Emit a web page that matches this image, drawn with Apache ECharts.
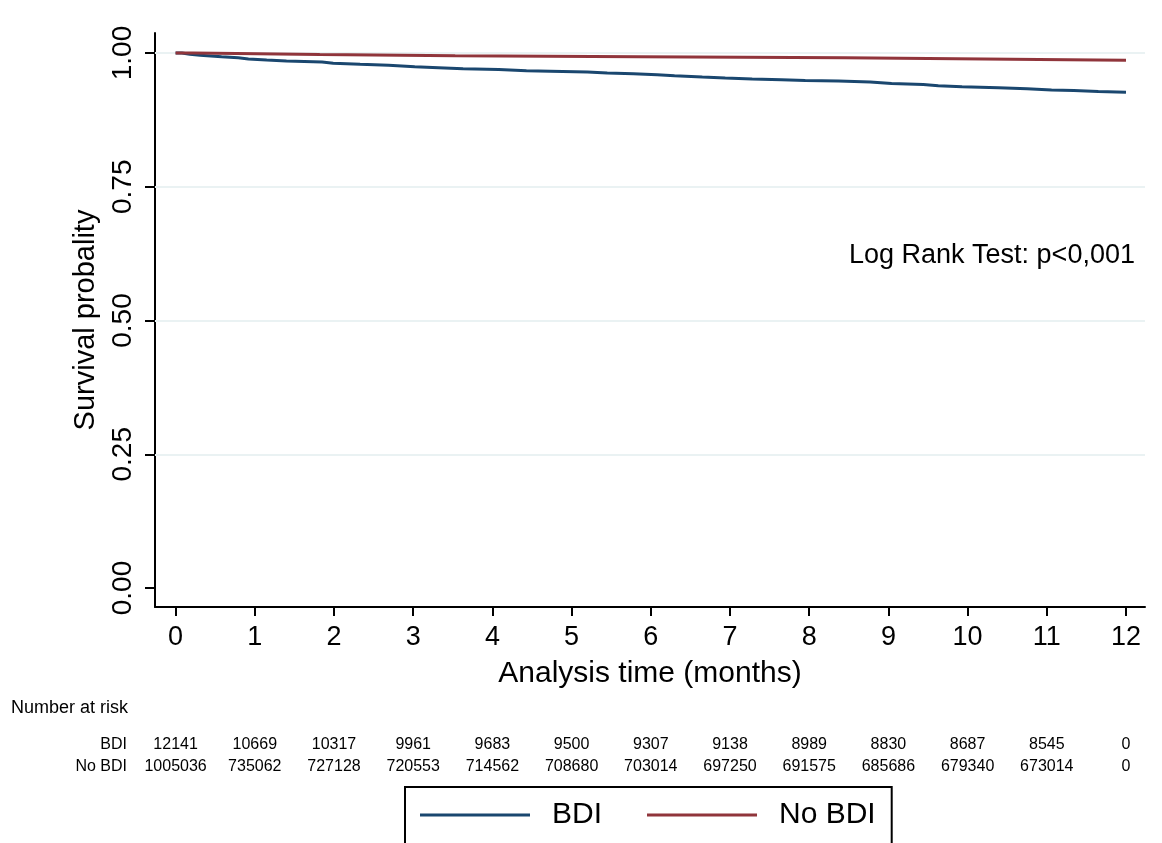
<!DOCTYPE html>
<html>
<head>
<meta charset="utf-8">
<script src="https://cdn.jsdelivr.net/npm/echarts@6/dist/echarts.min.js"></script>
<style>
html, body { margin: 0; padding: 0; background: #fff; }
#chart { width: 1162px; height: 843px; }
</style>
</head>
<body>
<div id="chart"></div>
<script>
// step points: [time in months, survival]
var bdiCurve = [
	[0, 1.000], [0.08, 0.9975], [0.18, 0.9957], [0.31, 0.993], [0.58, 0.991],
	[0.79, 0.989], [0.92, 0.987], [1.15, 0.985], [1.40, 0.983], [1.85, 0.981],
	[1.99, 0.979], [2.33, 0.977], [2.69, 0.9745], [3.02, 0.9726], [3.32, 0.9707],
	[3.63, 0.969], [4.08, 0.967], [4.43, 0.966], [4.73, 0.9645], [5.20, 0.9626],
	[5.45, 0.9613], [5.78, 0.9594], [6.08, 0.9576], [6.30, 0.9551], [6.65, 0.9533],
	[6.94, 0.9514], [7.28, 0.9500], [7.65, 0.9488], [7.95, 0.9477], [8.37, 0.946],
	[8.77, 0.943], [9.04, 0.941], [9.44, 0.939], [9.63, 0.937], [9.93, 0.935],
	[10.39, 0.933], [10.75, 0.931], [11.06, 0.930], [11.34, 0.928], [11.65, 0.9265],
	[12, 0.9265]
];
var noBdiCurve = [
	[0, 1.000], [0.22, 0.999], [0.77, 0.997], [1.82, 0.995], [3.53, 0.993],
	[5.84, 0.991], [8.45, 0.988], [10.9, 0.9865], [12, 0.9865]
];

var months = [0, 1, 2, 3, 4, 5, 6, 7, 8, 9, 10, 11, 12];
var yTicks = [0, 0.25, 0.5, 0.75, 1];
var gridValues = [0.25, 0.5, 0.75, 1];
var riskBdi = [12141, 10669, 10317, 9961, 9683, 9500, 9307, 9138, 8989, 8830, 8687, 8545, 0];
var riskNoBdi = [1005036, 735062, 727128, 720553, 714562, 708680, 703014, 697250, 691575, 685686, 679340, 673014, 0];

var font = 'Liberation Sans, Arial, sans-serif';

var myChart = echarts.init(document.getElementById('chart'));

function riskAxis(name, values, offset) {
	return {
		type: 'value',
		position: 'bottom',
		min: -0.26, max: 12.24,
		offset: offset,
		name: name,
		nameLocation: 'start',
		nameGap: 28,
		nameTextStyle: { fontFamily: font, fontSize: 16, color: '#000', align: 'right', verticalAlign: 'middle' },
		axisLine: { show: false, onZero: false },
		axisTick: { show: false },
		splitLine: { show: false },
		axisLabel: {
			customValues: months,
			margin: 0,
			verticalAlign: 'middle',
			fontFamily: font, fontSize: 16, color: '#000',
			formatter: function (v) { return String(values[Math.round(v)]); }
		}
	};
}

var option = {
	backgroundColor: '#fff',
	animation: false,
	grid: { left: 155, top: 33, right: 17, bottom: 236, containLabel: false },
	legend: {
		left: 405, top: 787,
		data: ['BDI', 'No BDI'],
		icon: 'rect',
		itemWidth: 110, itemHeight: 3,
		itemGap: 45,
		padding: [13, 16, 40, 15],
		borderColor: '#000', borderWidth: 2,
		textStyle: { fontFamily: font, fontSize: 30, color: '#000', padding: [0, 0, 0, 17] }
	},
	xAxis: [{
		type: 'value',
		min: -0.26, max: 12.24,
		name: 'Analysis time (months)',
		nameLocation: 'middle',
		nameGap: 52,
		nameTextStyle: { fontFamily: font, fontSize: 30, color: '#000' },
		axisLine: { onZero: false, lineStyle: { color: '#000', width: 2 } },
		axisTick: { customValues: months, length: 9, lineStyle: { color: '#000', width: 2 } },
		axisLabel: { customValues: months, margin: 17, fontFamily: font, fontSize: 27, color: '#000' },
		splitLine: { show: false }
	},
		riskAxis('BDI', riskBdi, 138),
		riskAxis('No BDI', riskNoBdi, 160)
	],
	yAxis: {
		type: 'value',
		min: -0.0355, max: 1.0374,
		name: 'Survival probality',
		nameLocation: 'middle',
		nameGap: 55,
		nameTextStyle: { fontFamily: font, fontSize: 29, color: '#000' },
		axisLine: { show: true, onZero: false, lineStyle: { color: '#000', width: 2 } },
		axisTick: { show: true, customValues: yTicks, length: 10, lineStyle: { color: '#000', width: 2 } },
		axisLabel: {
			customValues: yTicks, rotate: 90, margin: 18,
			fontFamily: font, fontSize: 28, color: '#000',
			formatter: function (v) { return v.toFixed(2); }
		},
		splitLine: { show: false }
	},
	graphic: [
		{ type: 'text', left: 849, top: 242, style: { text: 'Log Rank Test: p<0,001', font: '27px ' + font, fill: '#000' } },
		{ type: 'text', left: 11, top: 699, style: { text: 'Number at risk', font: '18px ' + font, fill: '#000' } }
	],
	series: [
		{
			name: 'BDI',
			type: 'line',
			step: 'end',
			showSymbol: false,
			data: bdiCurve,
			z: 3,
			lineStyle: { color: '#1a476f', width: 3 },
			itemStyle: { color: '#1a476f' },
			markLine: {
				silent: true,
				symbol: 'none',
				label: { show: false },
				lineStyle: { color: '#eaf2f3', width: 2, type: 'solid' },
				z: 1,
				data: gridValues.map(function (v) { return { yAxis: v }; })
			}
		},
		{
			name: 'No BDI',
			type: 'line',
			step: 'end',
			showSymbol: false,
			data: noBdiCurve,
			z: 3,
			lineStyle: { color: '#90353b', width: 3 },
			itemStyle: { color: '#90353b' }
		}
	]
};
myChart.setOption(option);
</script>
</body>
</html>
